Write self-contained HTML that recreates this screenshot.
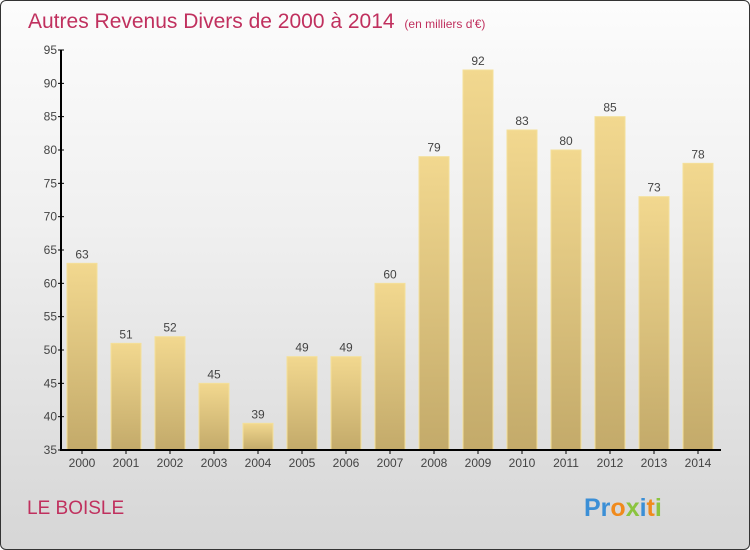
<!DOCTYPE html>
<html><head><meta charset="utf-8"><style>
body{margin:0;width:750px;height:550px;overflow:hidden;font-family:"Liberation Sans",sans-serif}
#c{position:absolute;left:0;top:0;width:748px;height:548px;border:1px solid #333;border-radius:6px;background:linear-gradient(#fcfcfc,#f0f0f0 40%,#d6d6d6);overflow:hidden}
</style></head><body>
<div id="c">
<svg width="748" height="548" id="s">
<defs><linearGradient id="g" x1="0" y1="0" x2="0" y2="1"><stop offset="0" stop-color="#f2d88f"/><stop offset="1" stop-color="#c3aa6a"/></linearGradient></defs>
<text x="27" y="27" font-size="21" fill="#c0305e">Autres Revenus Divers de 2000 à 2014 <tspan font-size="12" dx="4">(en milliers d'€)</tspan></text>
<text x="26" y="513" font-size="19" fill="#c0305e">LE BOISLE</text>
<text x="583" y="515" font-size="25" font-weight="bold"><tspan fill="#3b8fd6">Pr</tspan><tspan fill="#f08a1c">o</tspan><tspan fill="#8bc43f">x</tspan><tspan fill="#3b8fd6">i</tspan><tspan fill="#f08a1c">t</tspan><tspan fill="#8bc43f">i</tspan></text>
<g id="plot"></g>
</svg></div>
<script>
const years=["2000","2001","2002","2003","2004","2005","2006","2007","2008","2009","2010","2011","2012","2013","2014"];
const values=[63,51,52,45,39,49,49,60,79,92,83,80,85,73,78];
const yTicks=[35,40,45,50,55,60,65,70,75,80,85,90,95];
const ns="http://www.w3.org/2000/svg",p=document.getElementById('plot');
const y=v=>449-(v-35)*400/60, x=i=>81+i*44;
function mk(t,a,txt){const e=document.createElementNS(ns,t);for(const k in a)e.setAttribute(k,a[k]);if(txt!==undefined)e.textContent=txt;p.appendChild(e);return e;}
values.forEach((v,i)=>{
 const r=mk('rect',{x:x(i)-15,y:y(v),width:30,height:449-y(v),fill:'url(#g)',stroke:'#f4e09a','stroke-width':1});
 
 
 const t=mk('text',{x:x(i),y:y(v)-5,'font-size':12,fill:'#444','text-anchor':'middle'},v);
 
 
 const l=mk('text',{x:x(i),y:466,'font-size':12,fill:'#444','text-anchor':'middle'},years[i]);
 
 
 mk('line',{x1:x(i),x2:x(i),y1:449,y2:453,stroke:'#000'});
});
yTicks.forEach(v=>{
 mk('line',{x1:57,x2:63,y1:y(v),y2:y(v),stroke:'#000'});
 const t=mk('text',{x:56,y:y(v)+4,'font-size':12,fill:'#444','text-anchor':'end'},v);
 
 
});
const ya=mk('line',{x1:60,x2:60,y1:y(95),y2:449,stroke:'#000','stroke-width':2});


const xa=mk('line',{x1:59,x2:720,y1:449,y2:449,stroke:'#000','stroke-width':2});


</script>
</body></html>
